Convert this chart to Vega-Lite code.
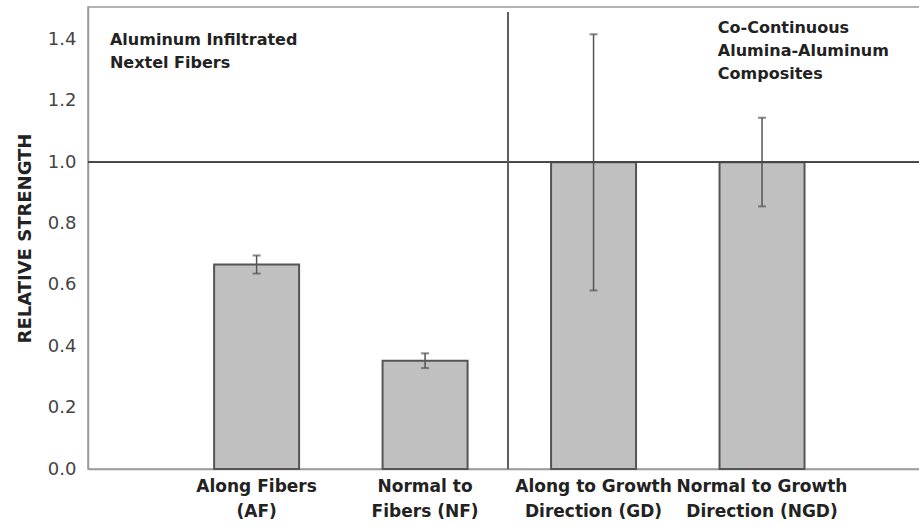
{
  "$schema": "https://vega.github.io/schema/vega-lite/v6.json",
  "width": 832,
  "height": 462,
  "autosize": "none",
  "padding": {"left": 88, "top": 7, "right": 0, "bottom": 58},
  "background": "white",
  "config": {"view": {"stroke": "#9a9a9a", "strokeWidth": 1.5}, "font": "DejaVu Sans"},
  "datasets": {
    "bars": [
      {"cat": "Along Fibers\n(AF)", "strength": 0.667, "lo": 0.637, "hi": 0.696},
      {"cat": "Normal to\nFibers (NF)", "strength": 0.353, "lo": 0.329, "hi": 0.377},
      {"cat": "Along to Growth\nDirection (GD)", "strength": 1.0, "lo": 0.582, "hi": 1.417},
      {"cat": "Normal to Growth\nDirection (NGD)", "strength": 1.0, "lo": 0.856, "hi": 1.145}
    ],
    "notes": [
      {"note": "Aluminum Infiltrated\nNextel Fibers", "group": "fibers"},
      {"note": "Co-Continuous\nAlumina-Aluminum\nComposites", "group": "composites"}
    ]
  },
  "layer": [
    {
      "data": {"name": "bars"},
      "layer": [
        {
          "mark": {"type": "bar", "fill": "#c0c0c0", "stroke": "#555555", "strokeWidth": 2},
          "encoding": {
            "x": {
              "field": "cat", "type": "nominal", "sort": null,
              "scale": {"paddingInner": 0.4955, "paddingOuter": 0.717, "align": 0.522},
              "axis": {
                "title": null,
                "labelExpr": "split(datum.label, '\\n')",
                "labelAngle": 0,
                "labelFont": "DejaVu Sans",
                "labelFontWeight": "bold",
                "labelFontSize": 17,
                "labelColor": "#222222",
                "labelLineHeight": 25,
                "labelPadding": 9,
                "labelLimit": 0,
                "ticks": false,
                "domainColor": "#9a9a9a",
                "domainWidth": 1.5
              }
            },
            "y": {
              "field": "strength", "type": "quantitative",
              "title": "RELATIVE STRENGTH",
              "scale": {"domain": [0, 1.506], "nice": false, "zero": true},
              "axis": {
                "title": "RELATIVE STRENGTH",
                "titleFont": "DejaVu Sans",
                "titleFontWeight": "bold",
                "titleFontSize": 18,
                "titleColor": "#222222",
                "titlePadding": 13,
                "values": [0, 0.2, 0.4, 0.6, 0.8, 1.0, 1.2, 1.4],
                "format": ".1f",
                "labelFont": "DejaVu Sans",
                "labelFontSize": 18,
                "labelColor": "#444444",
                "labelPadding": 12,
                "ticks": false,
                "grid": false,
                "domainColor": "#9a9a9a",
                "domainWidth": 1.5
              }
            }
          }
        },
        {
          "mark": {"type": "rule", "stroke": "#555555", "strokeWidth": 1.5},
          "encoding": {
            "x": {"field": "cat", "type": "nominal", "sort": null},
            "y": {"field": "lo", "type": "quantitative", "title": "RELATIVE STRENGTH"},
            "y2": {"field": "hi"}
          }
        },
        {
          "mark": {"type": "tick", "color": "#555555", "size": 8, "thickness": 2},
          "encoding": {
            "x": {"field": "cat", "type": "nominal", "sort": null},
            "y": {"field": "lo", "type": "quantitative", "title": "RELATIVE STRENGTH"}
          }
        },
        {
          "mark": {"type": "tick", "color": "#555555", "size": 8, "thickness": 2},
          "encoding": {
            "x": {"field": "cat", "type": "nominal", "sort": null},
            "y": {"field": "hi", "type": "quantitative", "title": "RELATIVE STRENGTH"}
          }
        },
        {
          "mark": {"type": "rule", "stroke": "#444444", "strokeWidth": 1.5},
          "encoding": {"y": {"datum": 1, "type": "quantitative", "title": "RELATIVE STRENGTH"}}
        }
      ]
    },
    {
      "data": {"name": "notes"},
      "layer": [
        {
          "mark": {"type": "rule", "stroke": "#555555", "strokeWidth": 1.5},
          "encoding": {
            "x": {"datum": 0.5048, "type": "quantitative", "scale": {"domain": [0, 1]}, "axis": null},
            "y": {"datum": 0, "type": "quantitative", "title": "RELATIVE STRENGTH"},
            "y2": {"datum": 1.49}
          }
        },
        {
          "transform": [{"filter": "datum.group == 'fibers'"}],
          "mark": {"type": "text", "align": "left", "baseline": "top", "lineBreak": "\n", "lineHeight": 23, "font": "DejaVu Sans", "fontWeight": "bold", "fontSize": 16, "color": "#222222"},
          "encoding": {
            "x": {"datum": 0.0264, "type": "quantitative", "scale": {"domain": [0, 1]}, "axis": null},
            "y": {"datum": 1.425, "type": "quantitative", "title": "RELATIVE STRENGTH"},
            "text": {"field": "note"}
          }
        },
        {
          "transform": [{"filter": "datum.group == 'composites'"}],
          "mark": {"type": "text", "align": "left", "baseline": "top", "lineBreak": "\n", "lineHeight": 23, "font": "DejaVu Sans", "fontWeight": "bold", "fontSize": 16, "color": "#222222"},
          "encoding": {
            "x": {"datum": 0.757, "type": "quantitative", "scale": {"domain": [0, 1]}, "axis": null},
            "y": {"datum": 1.462, "type": "quantitative", "title": "RELATIVE STRENGTH"},
            "text": {"field": "note"}
          }
        }
      ]
    }
  ],
  "resolve": {"scale": {"x": "independent"}}
}
